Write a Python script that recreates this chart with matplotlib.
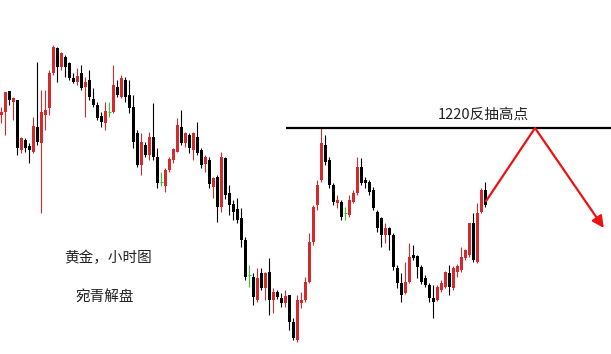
import matplotlib
matplotlib.use("Agg")
import matplotlib.pyplot as plt
import numpy as np

plt.rcParams['font.family'] = ['Noto Sans CJK SC', 'DejaVu Sans']

# hourly gold candles (open, high, low, close)
opens = [1221.3, 1221.6, 1223.7, 1222.6, 1222.8, 1217.8, 1218.8, 1218.2, 1217.6, 1220.1,
         1218.5, 1221.3, 1222.0, 1225.5, 1228.0, 1226.1, 1227.1, 1226.5, 1225.0, 1224.6,
         1225.5, 1224.1, 1224.8, 1222.9, 1222.3, 1221.2, 1220.5, 1221.6, 1221.6, 1224.1,
         1223.1, 1224.8, 1223.3, 1222.1, 1219.5, 1216.3, 1218.3, 1217.3, 1219.1, 1217.1,
         1214.6, 1214.2, 1215.8, 1216.8, 1217.6, 1220.1, 1218.5, 1219.3, 1217.8, 1219.1,
         1217.8, 1216.4, 1216.8, 1214.1, 1215.1, 1212.1, 1217.0, 1213.5, 1212.4, 1211.9,
         1211.0, 1208.8, 1205.3, 1205.1, 1202.8, 1205.5, 1204.0, 1205.6, 1202.8, 1203.6,
         1203.0, 1202.5, 1203.3, 1200.6, 1198.8, 1202.5, 1202.8, 1204.6, 1208.6, 1212.3,
         1214.8, 1218.3, 1216.8, 1214.3, 1212.5, 1212.6, 1211.5, 1211.3, 1212.6, 1213.5,
         1216.1, 1214.8, 1214.6, 1213.8, 1211.6, 1211.0, 1209.3, 1210.0, 1209.3, 1206.0,
         1204.5, 1203.5, 1204.6, 1207.3, 1207.2, 1206.1, 1205.0, 1204.3, 1203.0, 1202.8,
         1203.8, 1204.1, 1205.5, 1204.0, 1205.6, 1205.8, 1207.0, 1207.3, 1210.5, 1206.6,
         1211.6, 1213.8]
highs = [1222.1, 1223.6, 1223.7, 1223.1, 1222.8, 1219.1, 1219.0, 1218.5, 1221.1, 1226.6,
         1223.8, 1223.8, 1225.8, 1228.3, 1228.1, 1227.6, 1227.3, 1226.6, 1225.5, 1226.0,
         1226.3, 1225.1, 1225.8, 1224.0, 1222.6, 1221.6, 1222.6, 1222.6, 1226.3, 1224.8,
         1225.3, 1225.1, 1224.8, 1223.3, 1219.8, 1219.5, 1218.6, 1219.6, 1222.5, 1218.0,
         1215.6, 1216.0, 1217.1, 1218.0, 1221.0, 1221.8, 1219.6, 1219.5, 1219.6, 1220.6,
         1218.0, 1217.3, 1217.1, 1215.1, 1215.3, 1217.6, 1217.1, 1214.3, 1212.8, 1213.0,
         1212.0, 1209.1, 1206.3, 1205.5, 1206.0, 1206.0, 1205.6, 1207.0, 1204.0, 1203.8,
         1203.5, 1203.8, 1203.3, 1201.0, 1203.3, 1203.6, 1205.1, 1209.5, 1212.3, 1214.8,
         1220.0, 1219.3, 1217.1, 1214.5, 1213.3, 1212.8, 1212.1, 1213.3, 1213.8, 1217.1,
         1217.0, 1215.1, 1214.8, 1214.1, 1211.8, 1211.1, 1210.5, 1210.1, 1209.5, 1206.3,
         1205.5, 1206.6, 1208.5, 1208.3, 1207.3, 1206.3, 1205.3, 1204.5, 1204.3, 1204.3,
         1204.8, 1205.7, 1206.3, 1206.2, 1206.4, 1208.1, 1207.9, 1210.5, 1211.5, 1212.5,
         1214.0, 1214.6]
lows = [1220.5, 1219.3, 1222.3, 1220.8, 1217.3, 1217.5, 1217.6, 1216.5, 1217.5, 1218.3,
        1211.5, 1219.8, 1221.3, 1225.3, 1224.6, 1225.8, 1225.1, 1224.8, 1224.5, 1224.3,
        1223.8, 1221.1, 1222.8, 1222.1, 1220.8, 1220.1, 1219.8, 1221.1, 1221.5, 1223.1,
        1223.0, 1222.6, 1221.5, 1218.0, 1216.1, 1215.3, 1217.1, 1216.8, 1216.8, 1214.0,
        1214.2, 1213.6, 1215.6, 1216.5, 1217.6, 1218.3, 1218.1, 1217.5, 1216.8, 1217.3,
        1216.0, 1215.6, 1214.0, 1213.0, 1210.6, 1211.6, 1212.9, 1211.3, 1210.8, 1210.5,
        1208.1, 1204.8, 1204.1, 1202.3, 1202.6, 1203.8, 1202.8, 1201.3, 1201.5, 1202.9,
        1202.1, 1202.1, 1199.8, 1198.8, 1198.6, 1202.0, 1202.6, 1204.5, 1208.3, 1211.8,
        1214.6, 1216.3, 1214.0, 1212.3, 1212.0, 1210.8, 1210.8, 1211.1, 1212.5, 1213.3,
        1214.3, 1214.0, 1213.3, 1211.8, 1209.6, 1208.1, 1208.5, 1207.8, 1205.8, 1204.0,
        1202.6, 1203.4, 1204.5, 1206.8, 1205.0, 1204.4, 1204.1, 1202.6, 1201.0, 1202.7,
        1203.6, 1204.0, 1203.3, 1203.8, 1205.1, 1205.6, 1206.8, 1207.1, 1206.6, 1206.5,
        1211.5, 1212.1]
closes = [1221.6, 1223.6, 1222.8, 1223.0, 1218.0, 1219.0, 1218.0, 1217.8, 1220.2, 1218.6,
          1221.6, 1221.8, 1225.5, 1228.1, 1226.1, 1227.5, 1226.1, 1225.0, 1224.6, 1225.2,
          1224.0, 1224.6, 1223.1, 1222.3, 1221.0, 1220.6, 1221.7, 1221.6, 1224.3, 1223.3,
          1225.0, 1223.1, 1222.0, 1218.6, 1216.3, 1218.6, 1217.3, 1219.1, 1217.1, 1214.5,
          1214.6, 1215.8, 1216.9, 1217.9, 1220.3, 1218.5, 1219.5, 1218.0, 1219.5, 1217.5,
          1216.3, 1217.1, 1214.4, 1215.0, 1212.1, 1217.1, 1213.3, 1212.3, 1211.6, 1210.8,
          1208.8, 1205.1, 1205.3, 1203.1, 1205.0, 1204.0, 1205.5, 1202.8, 1203.6, 1203.1,
          1202.5, 1203.2, 1200.6, 1199.0, 1202.8, 1202.8, 1204.6, 1208.6, 1212.1, 1214.3,
          1218.5, 1216.6, 1214.3, 1212.6, 1212.8, 1211.1, 1211.5, 1212.8, 1213.5, 1216.1,
          1214.5, 1214.5, 1213.6, 1212.0, 1210.0, 1209.3, 1210.0, 1209.3, 1206.1, 1204.5,
          1203.3, 1204.6, 1207.1, 1207.0, 1206.1, 1204.6, 1204.3, 1203.0, 1202.6, 1204.1,
          1204.5, 1205.6, 1204.1, 1206.0, 1206.2, 1207.1, 1207.8, 1210.5, 1206.8, 1211.5,
          1213.8, 1212.3]

# resistance level and projected path (candle index, price)
resist_level = 1220.0
resist_label = '1220反抽高点'
path_x = [121, 133.4, 150.6]
path_y = [1212.6, 1220.0, 1210.0]

title_text = '黄金，小时图'
author_text = '宛青解盘'

RED = '#d42a2e'
BLACK = '#000000'
GREEN = '#2ecc2e'

opens = np.array(opens)
closes = np.array(closes)
highs = np.array(highs)
lows = np.array(lows)
x = np.arange(len(opens))

fig = plt.figure(figsize=(6.11, 3.54), dpi=100)
ax = fig.add_axes([0, 0, 1, 1])
ax.set_xlim(-0.375, 152.4)
ax.set_ylim(1197.4, 1232.8)
ax.axis('off')

colors = []
for o, c in zip(opens, closes):
    if c > o:
        colors.append(RED)
    elif c < o:
        colors.append(BLACK)
    else:
        colors.append(GREEN)

# wicks
ax.vlines(x, lows, highs, colors=colors, linewidth=0.8, zorder=2)
# bodies
bottoms = np.minimum(opens, closes)
heights = np.abs(closes - opens)
ax.bar(x, heights, bottom=bottoms, width=0.75, color=colors, linewidth=0, zorder=3)
# doji
doji = opens == closes
ax.hlines(opens[doji], x[doji] - 0.4, x[doji] + 0.4, colors=GREEN, linewidth=0.8, zorder=3)

# resistance line
ax.hlines(resist_level, 71.1, 152.4, colors='black', linewidth=1.6, zorder=4)
ax.text(120.5, resist_level + 1.35, resist_label, fontsize=10.5, color='#222222',
        ha='center', va='center')

# projected path with arrow
ax.plot(path_x[:2], path_y[:2], color='#ee1111', linewidth=1.6, solid_capstyle='butt', zorder=5)
ax.annotate('', xy=(path_x[2], path_y[2]), xytext=(path_x[1], path_y[1]),
            arrowprops=dict(arrowstyle='-|>,head_length=0.7,head_width=0.35',
                            color='#ee1111', linewidth=1.6, shrinkA=0, shrinkB=0),
            zorder=5)

fig.text(108 / 611, 1 - 258 / 354, title_text, fontsize=10.5, color='#222222',
         ha='center', va='center')
fig.text(105 / 611, 1 - 298 / 354, author_text, fontsize=10.5, color='#222222',
         ha='center', va='center')

fig.savefig('out.png', dpi=100)
